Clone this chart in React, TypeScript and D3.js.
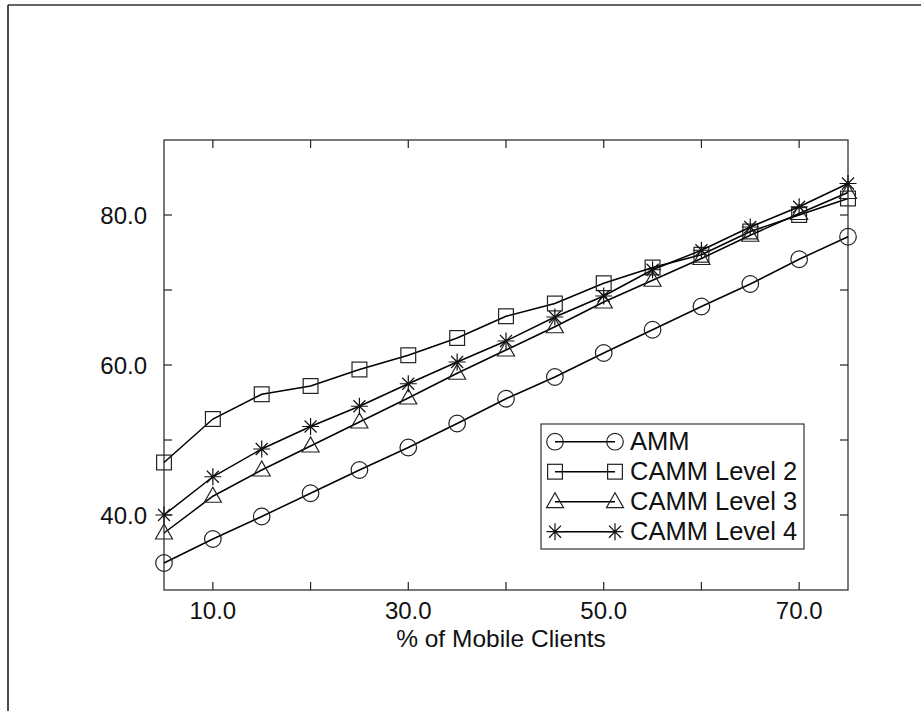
import React from "react";
import * as d3 from "d3";

const xValues = [5, 10, 15, 20, 25, 30, 35, 40, 45, 50, 55, 60, 65, 70, 75];
const amm = [33.6, 36.8, 39.8, 42.9, 46.0, 49.0, 52.2, 55.5, 58.4, 61.6, 64.7, 67.8, 70.8, 74.1, 77.1];
const camm2 = [47.0, 52.8, 56.1, 57.2, 59.4, 61.3, 63.6, 66.5, 68.2, 70.9, 73.0, 74.7, 77.8, 80.0, 82.2];
const camm3 = [37.6, 42.5, 46.0, 49.2, 52.4, 55.6, 58.9, 62.0, 65.1, 68.4, 71.3, 74.2, 77.3, 80.2, 83.0];
const camm4 = [40.0, 45.1, 48.8, 51.8, 54.5, 57.5, 60.4, 63.2, 66.4, 69.2, 72.7, 75.3, 78.4, 81.1, 84.2];
const seriesNames = ["AMM", "CAMM Level 2", "CAMM Level 3", "CAMM Level 4"];
const seriesMarkers = ["circle", "square", "triangle", "star"];
const xTicks = [10, 20, 30, 40, 50, 60, 70];
const xTickLabels = ["10.0", "", "30.0", "", "50.0", "", "70.0"];
const yTicks = [40, 50, 60, 70, 80];
const yTickLabels = ["40.0", "", "60.0", "", "80.0"];
const xLabel = "% of Mobile Clients";

const L = 164, R = 848, T = 140, B = 590;
const FONT = "'Liberation Sans', Arial, sans-serif";

function Marker({ type, x, y }: { type: string; x: number; y: number }) {
  const st = { fill: "none", stroke: "#222", strokeWidth: 1.2 };
  if (type === "circle") return <circle cx={x} cy={y} r={8.3} {...st} />;
  if (type === "square") return <rect x={x - 7.4} y={y - 7.4} width={14.8} height={14.8} {...st} />;
  if (type === "triangle") {
    const p = [[x, y - 9], [x - 8.5, y + 6], [x + 8.5, y + 6]];
    return <polygon points={p.map((q) => q.join(",")).join(" ")} {...st} />;
  }
  const r = 8.5;
  const d = [0, 45, 90, 135]
    .map((a) => {
      const rad = (a * Math.PI) / 180;
      const dx = r * Math.cos(rad), dy = r * Math.sin(rad);
      return `M${x - dx},${y - dy}L${x + dx},${y + dy}`;
    })
    .join("");
  return <path d={d} fill="none" stroke="#111" strokeWidth={1.2} />;
}

export default function App() {
  const x = d3.scaleLinear().domain([5, 75]).range([L, R]);
  const y = d3.scaleLinear().domain([30, 90]).range([B, T]);
  const all = [amm, camm2, camm3, camm4];
  const line = d3
    .line<number>()
    .x((_, i) => x(xValues[i]))
    .y((d) => y(d));

  const legX = 541, legY = 424, legW = 263, legH = 125;
  const rowY = [441.7, 471.7, 501.7, 531.7];

  return (
    <svg
      width={921}
      height={711}
      style={{ position: "absolute", left: 0, top: 0, background: "#fff" }}
      fontFamily={FONT}
    >
      <rect x={0} y={0} width={921} height={711} fill="#fff" />
      <line x1={8} y1={5} x2={921} y2={5} stroke="#333" strokeWidth={1.5} />
      <line x1={8} y1={5} x2={8} y2={711} stroke="#111" strokeWidth={1.5} />

      <rect x={L} y={T} width={R - L} height={B - T} fill="none" stroke="#222" strokeWidth={1.2} />
      {xTicks.map((t, i) => (
        <g key={"xt" + t}>
          <line x1={x(t)} x2={x(t)} y1={B} y2={B - 8} stroke="#222" strokeWidth={1.2} />
          <line x1={x(t)} x2={x(t)} y1={T} y2={T + 8} stroke="#222" strokeWidth={1.2} />
          {xTickLabels[i] && (
            <text x={x(t)} y={619} textAnchor="middle" fontSize={24} fill="#111">
              {xTickLabels[i]}
            </text>
          )}
        </g>
      ))}
      {yTicks.map((t, i) => (
        <g key={"yt" + t}>
          <line x1={L} x2={L + 8} y1={y(t)} y2={y(t)} stroke="#222" strokeWidth={1.2} />
          <line x1={R} x2={R - 8} y1={y(t)} y2={y(t)} stroke="#222" strokeWidth={1.2} />
          {yTickLabels[i] && (
            <text x={147} y={y(t) + 9} textAnchor="end" fontSize={24} fill="#111">
              {yTickLabels[i]}
            </text>
          )}
        </g>
      ))}
      <text x={501} y={647} textAnchor="middle" fontSize={24.5} fill="#111">
        {xLabel}
      </text>

      {all.map((s, si) => (
        <g key={"s" + si}>
          <path d={line(s) || ""} fill="none" stroke="#000" strokeWidth={1.5} />
          {s.map((v, i) => (
            <Marker key={i} type={seriesMarkers[si]} x={x(xValues[i])} y={y(v)} />
          ))}
        </g>
      ))}

      <rect x={legX} y={legY} width={legW} height={legH} fill="#fff" stroke="#333" strokeWidth={1.2} />
      {seriesNames.map((n, i) => (
        <g key={"lg" + i}>
          <line x1={555} x2={615} y1={rowY[i]} y2={rowY[i]} stroke="#000" strokeWidth={1.5} />
          <Marker type={seriesMarkers[i]} x={555} y={rowY[i]} />
          <Marker type={seriesMarkers[i]} x={615} y={rowY[i]} />
          <text x={630} y={rowY[i] + 8.5} fontSize={25.5} fill="#111">
            {n}
          </text>
        </g>
      ))}
    </svg>
  );
}
